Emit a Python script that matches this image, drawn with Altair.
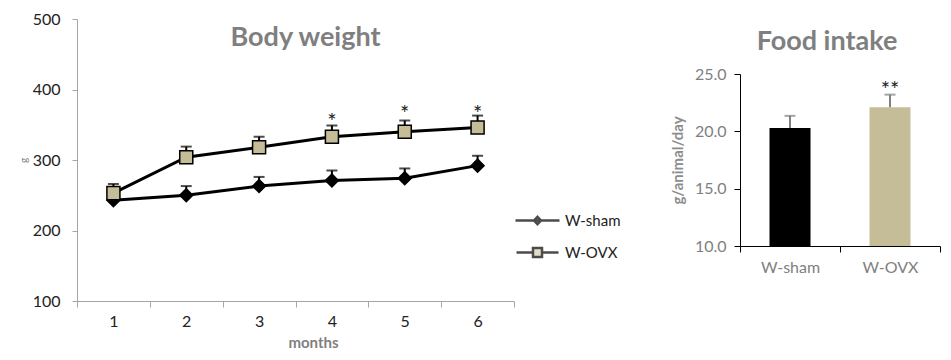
import altair as alt
import pandas as pd

# ---- Body weight data ----
months = [1, 2, 3, 4, 5, 6]
series = ["W-sham", "W-OVX"]
sham_mean = [243, 250, 263, 271, 274, 292]
sham_err = [12, 13, 13, 14, 14, 14]
ovx_mean = [253, 304, 318, 333, 340, 346]
ovx_err = [13, 15, 15, 16, 16, 17]
sig_months = [4, 5, 6]
sig_labels = ["*", "*", "*"]
sig_pos = [354, 365, 365]
bw_ticks = [100, 200, 300, 400, 500]

# ---- Food intake data ----
food_groups = ["W-sham", "W-OVX"]
food_mean = [20.3, 22.1]
food_err = [1.05, 1.1]
food_sig_group = ["W-OVX"]
food_sig_label = ["**"]
food_sig_pos = [23.6]
food_ticks = [10, 15, 20, 25]

TAN = "#C4BD97"
FONT = "Lato"

rows = []
for i, m in enumerate(months):
    rows.append({"month": m, "series": series[0], "mean": sham_mean[i], "upper": sham_mean[i] + sham_err[i]})
    rows.append({"month": m, "series": series[1], "mean": ovx_mean[i], "upper": ovx_mean[i] + ovx_err[i]})
bw = pd.DataFrame(rows)
sig = pd.DataFrame({"month": sig_months, "label": sig_labels, "pos": sig_pos})

xscale = alt.Scale(type="band", paddingInner=0, paddingOuter=0, domain=months)
yscale = alt.Scale(domain=[100, 500], nice=False, zero=False)

X = alt.X("month:O", scale=xscale, axis=alt.Axis(
    title="months", labelAngle=0, tickBand="extent", domainColor="#a6a6a6", tickColor="#a6a6a6",
    tickSize=6, labelColor="#222222", labelFontSize=16, labelFont=FONT, labelPadding=6,
    titleFont=FONT, titleFontSize=15, titleColor="#7f7f7f", titleFontWeight="bold", titlePadding=6,
    titleX=236))
Y = alt.Y("mean:Q", scale=yscale, axis=alt.Axis(
    values=bw_ticks, grid=False, domainColor="#a6a6a6", tickColor="#a6a6a6", tickSize=5,
    labelColor="#222222", labelFontSize=16, labelFont=FONT, labelPadding=12,
    title="g", titleFont=FONT, titleFontSize=10, titleColor="#7f7f7f", titleFontWeight="normal", titlePadding=4))

base = alt.Chart(bw)
err_rule = base.mark_rule(color="black", strokeWidth=2).encode(x=X, y=Y, y2="upper:Q")
err_cap = base.mark_tick(color="black", thickness=2, size=11).encode(x=X, y=alt.Y("upper:Q", scale=yscale))
lines = base.mark_line(color="black", strokeWidth=3).encode(x=X, y=Y, detail="series:N")
pts_sham = base.transform_filter(alt.datum.series == series[0]).mark_point(
    shape="diamond", filled=True, fill="black", stroke="black", size=150, opacity=1).encode(x=X, y=Y)
pts_ovx = base.transform_filter(alt.datum.series == series[1]).mark_point(
    shape="square", filled=True, fill=TAN, stroke="black", strokeWidth=1.5, size=170, opacity=1).encode(x=X, y=Y)

path_sham = "M-4.4,0H4.4M0,-0.75L0.7,0L0,0.75L-0.7,0Z"
path_ovx = "M-4.2,0H-0.9M0.9,0H4.2M-0.9,-0.9H0.9V0.9H-0.9Z"
legend_layer = base.transform_filter("false").mark_point(filled=True).encode(
    x=X, y=Y,
    shape=alt.Shape("series:N", title=None, scale=alt.Scale(domain=series, range=[path_sham, path_ovx])),
    fill=alt.Fill("series:N", title=None, scale=alt.Scale(domain=series, range=["black", TAN])),
    stroke=alt.Stroke("series:N", title=None, scale=alt.Scale(domain=series, range=["black", "black"])),
)
stars = alt.Chart(sig).mark_text(fontSize=22, font=FONT, color="#222222", baseline="middle").encode(
    x=alt.X("month:O", scale=xscale), y=alt.Y("pos:Q", scale=yscale), text="label:N")

left = alt.layer(lines, err_rule, err_cap, pts_sham, pts_ovx, legend_layer, stars).properties(
    width=437, height=282,
    title=alt.TitleParams("Body weight", font=FONT, fontSize=27, fontWeight="bold", color="#7f7f7f",
                          offset=-41, dx=10))

# ---- Food intake chart ----
food = pd.DataFrame({"group": food_groups, "mean": food_mean,
                     "upper": [m + e for m, e in zip(food_mean, food_err)]})
fsig = pd.DataFrame({"group": food_sig_group, "label": food_sig_label, "pos": food_sig_pos})
fx_scale = alt.Scale(paddingInner=0, paddingOuter=0, domain=food_groups)
fy_scale = alt.Scale(domain=[10, 25], nice=False, zero=False)
FX = alt.X("group:N", scale=fx_scale, sort=food_groups, axis=alt.Axis(
    title=None, labelAngle=0, tickBand="extent", domainColor="black", tickColor="black", tickSize=6,
    labelColor="#7f7f7f", labelFontSize=16, labelFont=FONT, labelPadding=7))
FY = alt.Y("mean:Q", scale=fy_scale, axis=alt.Axis(
    values=food_ticks, format=".1f", grid=False, domainColor="black", tickColor="black", tickSize=6,
    labelColor="#7f7f7f", labelFontSize=16, labelFont=FONT, labelPadding=8,
    title="g/animal/day", titleFont=FONT, titleFontSize=15, titleColor="#8c8c8c", titleFontWeight="bold",
    titlePadding=9))
fbase = alt.Chart(food)
bars = fbase.mark_bar(size=41).encode(
    x=FX, y=FY, y2=alt.datum(10),
    color=alt.Color("group:N", scale=alt.Scale(domain=food_groups, range=["black", TAN]), legend=None))
ferr = fbase.mark_rule(color="#7f7f7f", strokeWidth=2).encode(x=FX, y=FY, y2="upper:Q")
fcap = fbase.mark_tick(color="#7f7f7f", thickness=2, size=11).encode(
    x=FX, y=alt.Y("upper:Q", scale=fy_scale))
fstars = alt.Chart(fsig).mark_text(fontSize=22, font=FONT, color="#222222", baseline="middle").encode(
    x=alt.X("group:N", scale=fx_scale, sort=food_groups), y=alt.Y("pos:Q", scale=fy_scale), text="label:N")

right = alt.layer(bars, ferr, fcap, fstars).properties(
    width=200, height=172,
    title=alt.TitleParams("Food intake", font=FONT, fontSize=27, fontWeight="bold", color="#7f7f7f",
                          offset=10, dx=-13))

spacer = alt.Chart(pd.DataFrame({"v": [0]})).mark_point(opacity=0).encode(
    x=alt.value(0), y=alt.value(0)).properties(width=1, height=1)

right_col = alt.vconcat(spacer, right, spacing=6)

chart = alt.hconcat(left, right_col, spacing=155).resolve_scale(color="independent").configure_view(
    stroke=None
).configure_legend(
    orient="none", legendX=453, legendY=194, labelFontSize=15, labelFont=FONT, labelColor="#222222",
    symbolSize=100, symbolStrokeWidth=2.5, labelOffset=20, rowPadding=13, padding=0
).properties(background="white", padding={"left": 10, "top": 3, "right": 0, "bottom": 0})

chart.save("out.html", embed_options={"renderer": "svg", "actions": False})
